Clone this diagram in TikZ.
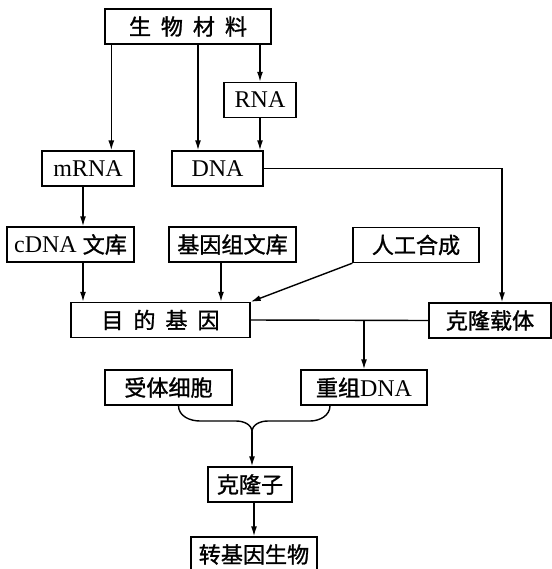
\documentclass[tikz,border=0pt]{standalone}
\usepackage{fontspec}
\setmainfont{Liberation Serif}
\newfontfamily\cjk[Scale=0.92, FakeBold=1.2]{Noto Sans CJK SC}
\usetikzlibrary{arrows.meta, positioning, calc}

\begin{document}
\begin{tikzpicture}[x=0.5pt, y=-0.5pt, >={Latex[length=5pt, width=3pt]},
  line width=0.7pt,
  stage/.style={draw, minimum height=17.5pt, inner sep=1pt,
    font=\fontsize{12}{14}\selectfont}]
  \useasboundingbox (0,0) rectangle (552,569);
  % Sources
  \node[stage, minimum width=83pt] (bio) at (188,26.5)
    {\cjk 生\hspace{0.45em}物\hspace{0.45em}材\hspace{0.45em}料};
  \node[stage, minimum width=36pt] (rna) at (260,100) {RNA};
  \node[stage, minimum width=46pt] (mrna) at (88,168.5) {mRNA};
  \node[stage, minimum width=45.5pt] (dna) at (217.5,168.5) {DNA};
  % Ways to get the gene
  \node[stage, minimum width=63.5pt] (cdna) at (70.5,244.5) {cDNA {\cjk 文库}};
  \node[stage, minimum width=63.5pt] (genome) at (232.5,244.5) {\cjk 基因组文库};
  \node[stage, minimum width=63pt] (synth) at (416,245) {\cjk 人工合成};
  \node[stage, minimum width=89.5pt] (target) at (160.5,320)
    {\cjk 目\hspace{0.45em}的\hspace{0.45em}基\hspace{0.45em}因};
  \node[stage, minimum width=61pt] (vector) at (490,320.5) {\cjk 克隆载体};
  % Transfer
  \node[stage, minimum width=63.5pt] (host) at (168.5,387.5) {\cjk 受体细胞};
  \node[stage, minimum width=63pt] (recomb) at (364,387.5) {{\cjk 重组}DNA};
  \node[stage, minimum width=42pt] (clone) at (250,484.5) {\cjk 克隆子};
  \node[stage, minimum width=63pt] (trans) at (254,554.5) {\cjk 转基因生物};
  % Arrows from the source material
  \draw[->] ([xshift=3.5pt]bio.south west) -- ([xshift=3.5pt]bio.south west |- mrna.north);
  \draw[->] ([xshift=5pt]bio.south) -- ([xshift=5pt]bio.south |- dna.north);
  \draw[->] (bio.south -| rna) -- (rna.north);
  \draw[->] (rna.south) -- (rna.south |- dna.north);
  \draw[->] (dna.east) -| ([xshift=6pt]vector.north);
  \draw[->] ([xshift=-2.5pt]mrna.south) -- ([xshift=-2.5pt]mrna.south |- cdna.north);
  % Into the target gene
  \draw[->] ([xshift=6.25pt]cdna.south) -- ([xshift=6.25pt]cdna.south |- target.north);
  \draw[->] ([xshift=-5.75pt]genome.south) -- ([xshift=-5.75pt]genome.south |- target.north);
  \draw[->] (synth.south west) -- (target.north east);
  % Joining gene and vector
  \draw (target.east) -- (vector.west);
  \draw[->] (target.east -| recomb.north) -- (recomb.north);
  % Merge into clone
  \coordinate (merge) at (252,432);
  \draw ([xshift=5pt]host.south) to[out=-90, in=180] (200,421)
    -- (236,421) to[out=0, in=90] (merge);
  \draw ([xshift=-17pt]recomb.south) to[out=-90, in=0] (310,421)
    -- (268,421) to[out=180, in=90] (merge);
  \draw[->] (merge) -- (merge |- clone.north);
  \draw[->] ([xshift=2pt]clone.south) -- ([xshift=2pt]clone.south |- trans.north);
\end{tikzpicture}
\end{document}
